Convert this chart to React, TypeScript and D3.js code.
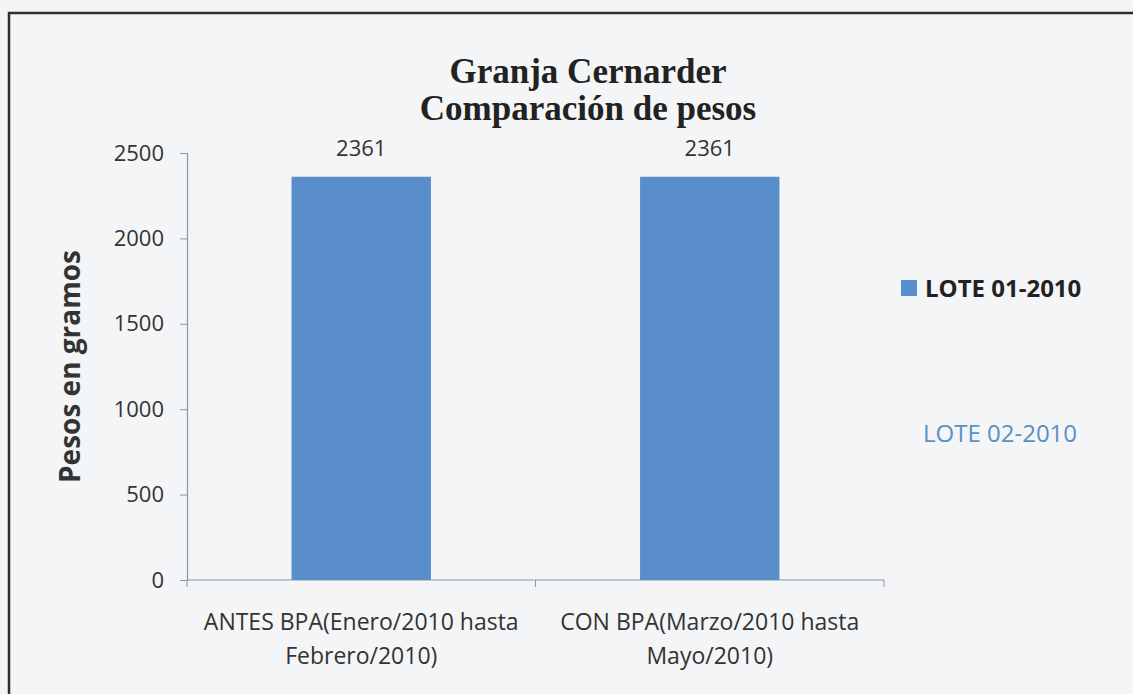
import React, { useEffect, useRef } from 'react';
import * as d3 from 'd3';

// data
const categories = [
  ['ANTES BPA(Enero/2010 hasta', 'Febrero/2010)'],
  ['CON BPA(Marzo/2010 hasta', 'Mayo/2010)'],
];
const seriesNames = ['LOTE 01-2010', 'LOTE 02-2010'];
const lote01 = [2361, 2361];
const yTicks = [0, 500, 1000, 1500, 2000, 2500];
const titleLines = ['Granja Cernarder', 'Comparación de pesos'];

const W = 1133, H = 694;
const FONT = "'Open Sans', 'Noto Sans', sans-serif";

export default function App() {
  const ref = useRef<SVGSVGElement>(null);

  useEffect(() => {
    const svg = d3.select(ref.current);
    svg.selectAll('*').remove();

    svg.append('rect').attr('width', W).attr('height', H).attr('fill', '#f4f5f6');

    // chart frame (only top and left visible in the scan)
    svg.append('path')
      .attr('d', `M9,${H} L9,13 L${W},13`)
      .attr('fill', 'none')
      .attr('stroke', '#2e2e2e')
      .attr('stroke-width', 2.5);

    var margin = { top: 153, left: 187, right: 884, bottom: 580 };

    var x = d3.scaleBand()
      .domain(categories.map((c, i) => String(i)))
      .range([margin.left, margin.right])
      .paddingInner(0.6)
      .paddingOuter(0.3);

    var y = d3.scaleLinear()
      .domain([0, 2500])
      .range([margin.bottom, margin.top]);

    // title
    svg.append('text')
      .attr('x', 588)
      .attr('text-anchor', 'middle')
      .style('font-family', "'Liberation Serif', 'DejaVu Serif', serif")
      .style('font-weight', 'bold')
      .style('font-size', '35px')
      .attr('fill', '#222')
      .selectAll('tspan')
      .data(titleLines)
      .enter().append('tspan')
      .attr('x', 588)
      .attr('y', (d, i) => 83 + i * 37)
      .text(d => d);

    // y axis
    var yAxis = svg.append('g')
      .attr('transform', `translate(${margin.left},0)`)
      .call(d3.axisLeft(y).tickValues(yTicks).tickSize(7).tickPadding(16).tickFormat(d3.format('d')));
    yAxis.select('.domain').attr('stroke', '#8d96a3').attr('stroke-width', 1.2);
    yAxis.selectAll('.tick line').attr('stroke', '#8d96a3');
    yAxis.selectAll('.tick text')
      .style('font-family', FONT)
      .style('font-size', '22px')
      .attr('fill', '#333');

    // x axis line with ticks at band boundaries
    var xAxisG = svg.append('g');
    xAxisG.append('line')
      .attr('x1', margin.left).attr('x2', margin.right)
      .attr('y1', margin.bottom).attr('y2', margin.bottom)
      .attr('stroke', '#8d96a3').attr('stroke-width', 1.2);
    var boundaries = [margin.left, ...categories.map((c, i) => x(String(i))! + x.bandwidth() / 2 + x.step() / 2)];
    xAxisG.selectAll('.xtick')
      .data(boundaries)
      .enter().append('line')
      .attr('x1', d => d).attr('x2', d => d)
      .attr('y1', margin.bottom).attr('y2', margin.bottom + 7)
      .attr('stroke', '#8d96a3');

    // category labels
    categories.forEach((lines, i) => {
      var cx = x(String(i))! + x.bandwidth() / 2;
      svg.append('text')
        .attr('text-anchor', 'middle')
        .style('font-family', FONT)
        .style('font-size', '23px')
        .attr('fill', '#333')
        .selectAll('tspan')
        .data(lines)
        .enter().append('tspan')
        .attr('x', cx)
        .attr('y', (d, j) => 630 + j * 34)
        .text(d => d);
    });

    // bars
    svg.selectAll('.bar')
      .data(lote01)
      .enter().append('rect')
      .attr('x', (d, i) => x(String(i))!)
      .attr('width', x.bandwidth())
      .attr('y', d => y(d))
      .attr('height', d => y(0) - y(d))
      .attr('fill', '#5a8ecb');

    // data labels
    svg.selectAll('.lbl')
      .data(lote01)
      .enter().append('text')
      .attr('x', (d, i) => x(String(i))! + x.bandwidth() / 2)
      .attr('y', d => y(d) - 21)
      .attr('text-anchor', 'middle')
      .style('font-family', FONT)
      .style('font-size', '22px')
      .attr('fill', '#333')
      .text(d => d);

    // y axis title
    svg.append('text')
      .attr('transform', `translate(80,${(margin.top + margin.bottom) / 2}) rotate(-90)`)
      .attr('text-anchor', 'middle')
      .style('font-family', FONT)
      .style('font-weight', 'bold')
      .style('font-size', '28px')
      .attr('fill', '#333')
      .text('Pesos en gramos');

    // legend
    var legend = svg.append('g');
    legend.append('rect')
      .attr('x', 901).attr('y', 280).attr('width', 16).attr('height', 16)
      .attr('fill', '#5a8ecb');
    legend.selectAll('.leg')
      .data(seriesNames)
      .enter().append('text')
      .attr('x', (d, i) => i === 0 ? 925 : 923)
      .attr('y', (d, i) => i === 0 ? 297 : 442)
      .style('font-family', FONT)
      .style('font-size', '24px')
      .style('font-weight', (d, i) => i === 0 ? 'bold' : 'normal')
      .attr('fill', (d, i) => i === 0 ? '#222' : '#5b8fc6')
      .text(d => d);
  }, []);

  return (
    <svg ref={ref} width={W} height={H} style={{ position: 'absolute', left: 0, top: 0, display: 'block' }} />
  );
}
